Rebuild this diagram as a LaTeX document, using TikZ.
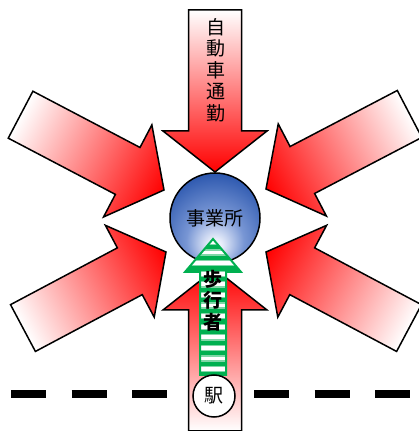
\documentclass[tikz,border=0pt]{standalone}
\usepackage{fontspec}
\newfontfamily\cjk{Noto Sans CJK JP}
\definecolor{arrowred}{RGB}{255,0,0}
\definecolor{walkgreen}{RGB}{0,176,80}
\definecolor{sphblue}{RGB}{45,88,175}
\definecolor{sphmid}{RGB}{120,150,212}
\definecolor{sphlight}{RGB}{230,236,250}
\pgfdeclareradialshading{officeball}{\pgfpoint{0bp}{-16bp}}{color(0bp)=(white); color(4bp)=(sphlight); color(16bp)=(sphmid); color(34bp)=(sphblue); color(80bp)=(sphblue)}
\newcommand\redarrowat[3]{%
  \begin{scope}[transform canvas={shift={(#1,#2)},rotate=#3}]
    \path[redarrow] (0,0) -- (-41,52) -- (-41,26.5) -- (-162,26.5) -- (-162,-26.5) -- (-41,-26.5) -- (-41,-52) -- cycle;
  \end{scope}}
\begin{document}
\begin{tikzpicture}[x=1pt,y=1pt,
  redarrow/.style={draw=black, line width=1.5pt, line join=miter, left color=white, right color=arrowred},
  railline/.style={line width=8pt, dash pattern=on 35pt off 25.5pt, line cap=butt},
  cjktext/.style={font=\cjk\fontsize{19}{21.5}\selectfont, align=center, inner sep=0pt},
  officenode/.style={circle, minimum size=90pt, inner sep=0pt, draw=black, line width=1.5pt, shading=officeball},
  stationnode/.style={circle, minimum size=42pt, inner sep=0pt, draw=black, line width=1.5pt, fill=white},
  walkarrow/.style={fill=walkgreen, path picture={
      \foreach \k in {0,...,13} {
        \draw[white, opacity=0.5, line width=6.5pt] (150,189-\k*10.6) -- (280,189-\k*10.6);
        \draw[white, line width=3.8pt] (150,189-\k*10.6) -- (280,189-\k*10.6);
      }}},
]
\useasboundingbox (0,0) rectangle (419,431);
% railway
\draw[railline] (11,37) -- (167,37);
\draw[railline] (254,37) -- (410,37);
% diagonal arrows
\redarrowat{164}{241}{-27.7}
\redarrowat{266}{242}{-152.4}
\redarrowat{166}{179}{28}
\redarrowat{266}{179}{152}
% vertical arrows
\redarrowat{215}{259}{-90}
\redarrowat{215}{162}{90}
% office
\node[officenode] (office) at (215,213) {};
\node[cjktext] (officelabel) at (215,213) {事業所};
% pedestrian arrow
\path[walkarrow] (213,192) -- (241,159) -- (226,159) -- (226,56) -- (200,56) -- (200,159) -- (185,159) -- cycle;
\draw[walkgreen, line width=2pt, line join=miter] (213,192) -- (241,159) -- (226,159) -- (226,56) -- (200,56) -- (200,159) -- (185,159) -- cycle;
\node[cjktext, font=\cjk\bfseries\fontsize{19}{21.5}\selectfont] (walk) at (213,130.5) {歩\\行\\者};
% car commute text
\node[cjktext] (commute) at (216,361) {自\\動\\車\\通\\勤};
% station
\node[stationnode] (station) at (214,35) {};
\node[cjktext] (stationlabel) at (214,35) {駅};
\end{tikzpicture}
\end{document}
